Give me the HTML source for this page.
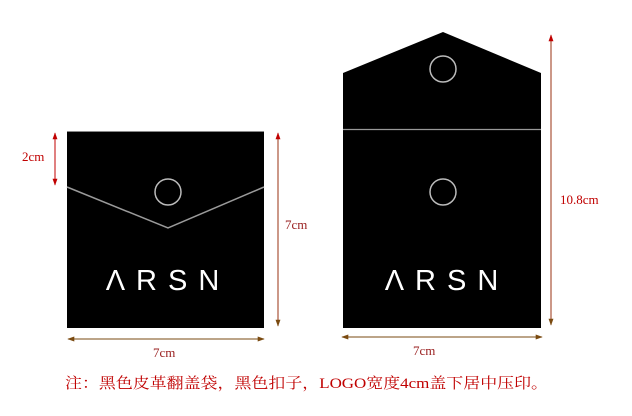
<!DOCTYPE html>
<html><head><meta charset="utf-8"><style>html,body{margin:0;padding:0;background:#fff}svg{display:block}</style></head><body>
<svg width="632" height="416" viewBox="0 0 632 416" xmlns="http://www.w3.org/2000/svg">
<defs>
<marker id="ar" viewBox="0 0 10 10" refX="9" refY="5" markerWidth="7" markerHeight="7" orient="auto-start-reverse"><path d="M0,1.5 L10,5 L0,8.5z" fill="#c00000"/></marker>
<marker id="ab" viewBox="0 0 10 10" refX="9" refY="5" markerWidth="7" markerHeight="7" orient="auto-start-reverse"><path d="M0,1.5 L10,5 L0,8.5z" fill="#7a4a10"/></marker>
</defs>
<!-- left bag -->
<rect x="67" y="131" width="197" height="197" fill="#000"/>
<line x1="67" y1="131.5" x2="264" y2="131.5" stroke="#888" stroke-width="1"/>
<polyline points="67,187 168,228 264,187" fill="none" stroke="#9a9a9a" stroke-width="1.5"/>
<circle cx="168" cy="192" r="13" fill="none" stroke="#bbb" stroke-width="1.5"/>
<text x="168" y="290" text-anchor="middle" font-family="Liberation Sans, sans-serif" font-size="29" fill="#fff" letter-spacing="11" font-weight="300">ΛRSN</text>
<!-- right bag -->
<polygon points="343,73 443,32 541,73 541,328 343,328" fill="#000"/>
<line x1="343" y1="129.5" x2="541" y2="129.5" stroke="#999" stroke-width="1.2"/>
<circle cx="443" cy="69" r="13" fill="none" stroke="#bbb" stroke-width="1.5"/>
<circle cx="443" cy="192" r="13" fill="none" stroke="#bbb" stroke-width="1.5"/>
<text x="447" y="290" text-anchor="middle" font-family="Liberation Sans, sans-serif" font-size="29" fill="#fff" letter-spacing="11" font-weight="300">ΛRSN</text>
<!-- dims -->
<line x1="55" y1="133" x2="55" y2="185" stroke="#c00000" stroke-width="1" marker-start="url(#ar)" marker-end="url(#ar)"/>
<text x="22" y="161" font-family="Liberation Serif, serif" font-size="13" fill="#c00000">2cm</text>
<line x1="278" y1="133" x2="278" y2="326" stroke="#9a3010" stroke-width="1" marker-start="url(#ar)" marker-end="url(#ab)"/>
<text x="285" y="229" font-family="Liberation Serif, serif" font-size="13" fill="#9a2020">7cm</text>
<line x1="68" y1="339" x2="264" y2="339" stroke="#7a4a10" stroke-width="1" marker-start="url(#ab)" marker-end="url(#ab)"/>
<text x="153" y="357" font-family="Liberation Serif, serif" font-size="13" fill="#9a2020">7cm</text>
<line x1="551" y1="35" x2="551" y2="325" stroke="#9a3010" stroke-width="1" marker-start="url(#ar)" marker-end="url(#ab)"/>
<text x="560" y="204" font-family="Liberation Serif, serif" font-size="13" fill="#c00000">10.8cm</text>
<line x1="342" y1="337" x2="542" y2="337" stroke="#7a4a10" stroke-width="1" marker-start="url(#ab)" marker-end="url(#ab)"/>
<text x="413" y="355" font-family="Liberation Serif, serif" font-size="13" fill="#9a2020">7cm</text>
<text x="65" y="388" font-family="Liberation Serif, 'Noto Serif CJK SC', serif" font-size="15" fill="#c00000" textLength="483" lengthAdjust="spacingAndGlyphs">注：黑色皮革翻盖袋，黑色扣子，LOGO宽度4cm盖下居中压印。</text>
</svg>
</body></html>
